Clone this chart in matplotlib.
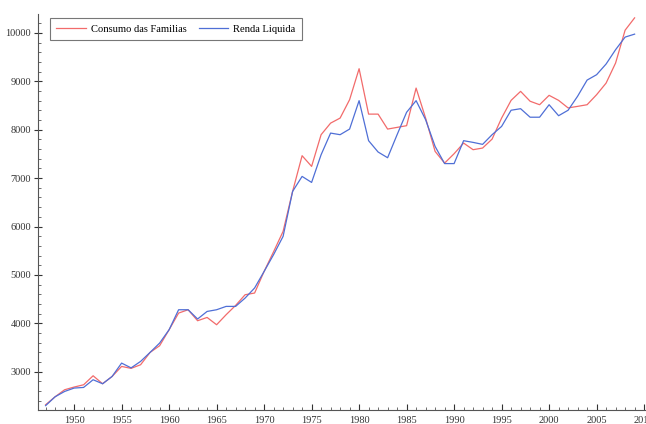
import matplotlib
matplotlib.use('Agg')
import matplotlib.pyplot as plt
from matplotlib.ticker import MultipleLocator

years = list(range(1947, 2010))

consumo = [2318, 2483, 2628, 2684, 2731, 2917, 2752, 2903, 3110, 3070,
           3145, 3400, 3537, 3868, 4212, 4281, 4054, 4122, 3971, 4178,
           4370, 4591, 4626, 5072, 5480, 5900, 6725, 7463, 7242, 7897,
           8136, 8240, 8620, 9260, 8322, 8322, 8013, 8048, 8083, 8860,
           8240, 7552, 7310, 7504, 7724, 7587, 7621, 7806, 8240, 8606,
           8792, 8588, 8516, 8710, 8606, 8450, 8482, 8516, 8723, 8963,
           9378, 10055, 10310]

renda = [2300, 2483, 2593, 2663, 2676, 2835, 2752, 2903, 3179, 3080,
         3214, 3400, 3592, 3868, 4281, 4281, 4090, 4246, 4281, 4350,
         4350, 4522, 4730, 5072, 5420, 5797, 6725, 7035, 6911, 7483,
         7930, 7897, 8013, 8600, 7773, 7539, 7421, 7897, 8360, 8600,
         8207, 7655, 7300, 7300, 7773, 7738, 7697, 7897, 8068, 8402,
         8434, 8258, 8258, 8516, 8289, 8402, 8691, 9025, 9136, 9357,
         9653, 9913, 9974]

plt.rcParams['font.family'] = ['Liberation Serif', 'DejaVu Serif']
plt.rcParams['font.size'] = 7.5

fig = plt.figure(figsize=(6.46, 4.24), dpi=100)
ax = fig.add_axes([38/646, 14/424, 608/646, 396/424])

ax.plot(years, consumo, color='#f26b6b', lw=0.9, label='Consumo das Familias')
ax.plot(years, renda, color='#4f6fd6', lw=0.9, label='Renda Liquida')

ax.set_xlim(1946.2, 2010.2)
ax.set_ylim(2210, 10390)

ax.xaxis.set_major_locator(MultipleLocator(5))
ax.xaxis.set_minor_locator(MultipleLocator(1))
ax.yaxis.set_major_locator(MultipleLocator(1000))
ax.yaxis.set_minor_locator(MultipleLocator(200))

ax.tick_params(axis='x', which='major', direction='in', length=4, width=0.8, pad=4, colors='#333333')
ax.tick_params(axis='x', which='minor', direction='in', length=2.2, width=0.6, colors='#555555')
ax.tick_params(axis='y', which='major', direction='inout', length=6, width=0.8, pad=2, colors='#333333')
ax.tick_params(axis='y', which='minor', direction='in', length=2.5, width=0.6, colors='#555555')

for s in ['top', 'right']:
    ax.spines[s].set_visible(False)
for s in ['left', 'bottom']:
    ax.spines[s].set_color('#555555')
    ax.spines[s].set_linewidth(0.8)

# legend box: upper left, just under the top of the axis
leg = ax.legend(loc='upper left', ncol=2, bbox_to_anchor=(12/608, 1 - 4/396),
                borderaxespad=0, handlelength=2.8, handletextpad=0.5,
                columnspacing=1.1, fancybox=False, borderpad=0.6, fontsize=7.6)
leg.get_frame().set_edgecolor('#555555')
leg.get_frame().set_linewidth(0.8)

plt.savefig('out.png', dpi=100)
